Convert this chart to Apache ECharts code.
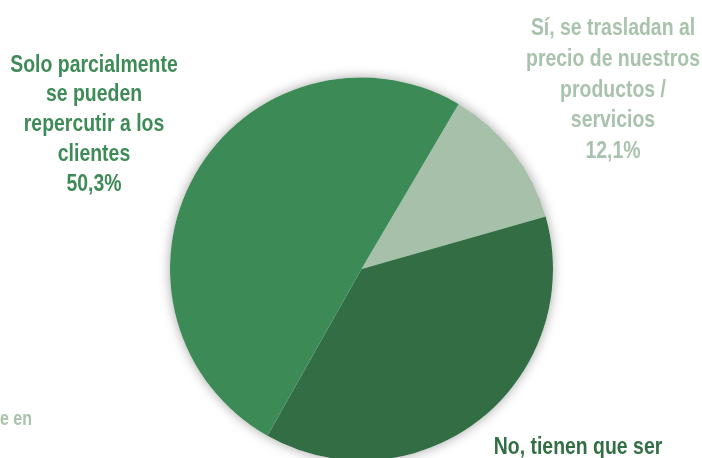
<!DOCTYPE html>
<html>
<head>
<meta charset="utf-8">
<script src="https://cdn.jsdelivr.net/npm/echarts@6/dist/echarts.min.js"></script>
<style>
html,body{margin:0;padding:0;background:#fff;}
#c{width:702px;height:458px;}
</style>
</head>
<body>
<div id="c"></div>
<script>
var categories = [
  "Sí, se trasladan al\nprecio de nuestros\nproductos /\nservicios",
  "No, tienen que ser\nasumidos por la\nempresa",
  "Solo parcialmente\nse pueden\nrepercutir a los\nclientes"
];
var values = [12.1, 37.6, 50.3];
var sliceColors = ["#a6c0aa", "#326d44", "#3c8a56"];
var labelColors = ["#a9c2ac", "#336e45", "#3e8b57"];
var labelPos = [[613, 13, 30.8], [578, 432, 30], [94, 50, 29.8]];
var footnote = "e en";

var FONT = "'Liberation Sans','Arimo',Arial,sans-serif";
var SX = 0.81;
var chart = echarts.init(document.getElementById('c'), null, {renderer: 'canvas'});

function fmt(v) { return v.toFixed(1).replace('.', ',') + '%'; }

var data = categories.map(function (n, i) {
  return {name: n, value: values[i], itemStyle: {color: sliceColors[i]}};
});

var graphics = categories.map(function (n, i) {
  return {
    type: 'text', x: labelPos[i][0], y: labelPos[i][1], scaleX: SX, z: 10,
    style: {
      text: n + '\n' + fmt(values[i]),
      fill: labelColors[i],
      font: 'bold 24px ' + FONT,
      lineHeight: labelPos[i][2],
      textAlign: 'center', textVerticalAlign: 'top'
    }
  };
});
graphics.push({
  type: 'text', x: 0, y: 419, scaleX: 0.8, z: 10,
  style: {text: footnote, fill: '#a9c2ac', font: 'bold 20px ' + FONT,
          textAlign: 'left', textVerticalAlign: 'middle'}
});

chart.setOption({
  animation: false,
  graphic: graphics,
  series: [{
    type: 'pie', silent: true, z: 1,
    center: [361.5, 269], radius: 191.5,
    label: {show: false}, labelLine: {show: false},
    itemStyle: {color: '#ffffff', shadowBlur: 12, shadowColor: 'rgba(0,0,0,0.35)'},
    data: [{value: 1, name: 'bg'}]
  }, {
    type: 'pie', z: 2, silent: true,
    center: [361.5, 269], radius: 191.5,
    startAngle: 59.5, clockwise: true,
    itemStyle: {borderWidth: 0},
    label: {show: false}, labelLine: {show: false},
    data: data
  }]
});
</script>
</body>
</html>
